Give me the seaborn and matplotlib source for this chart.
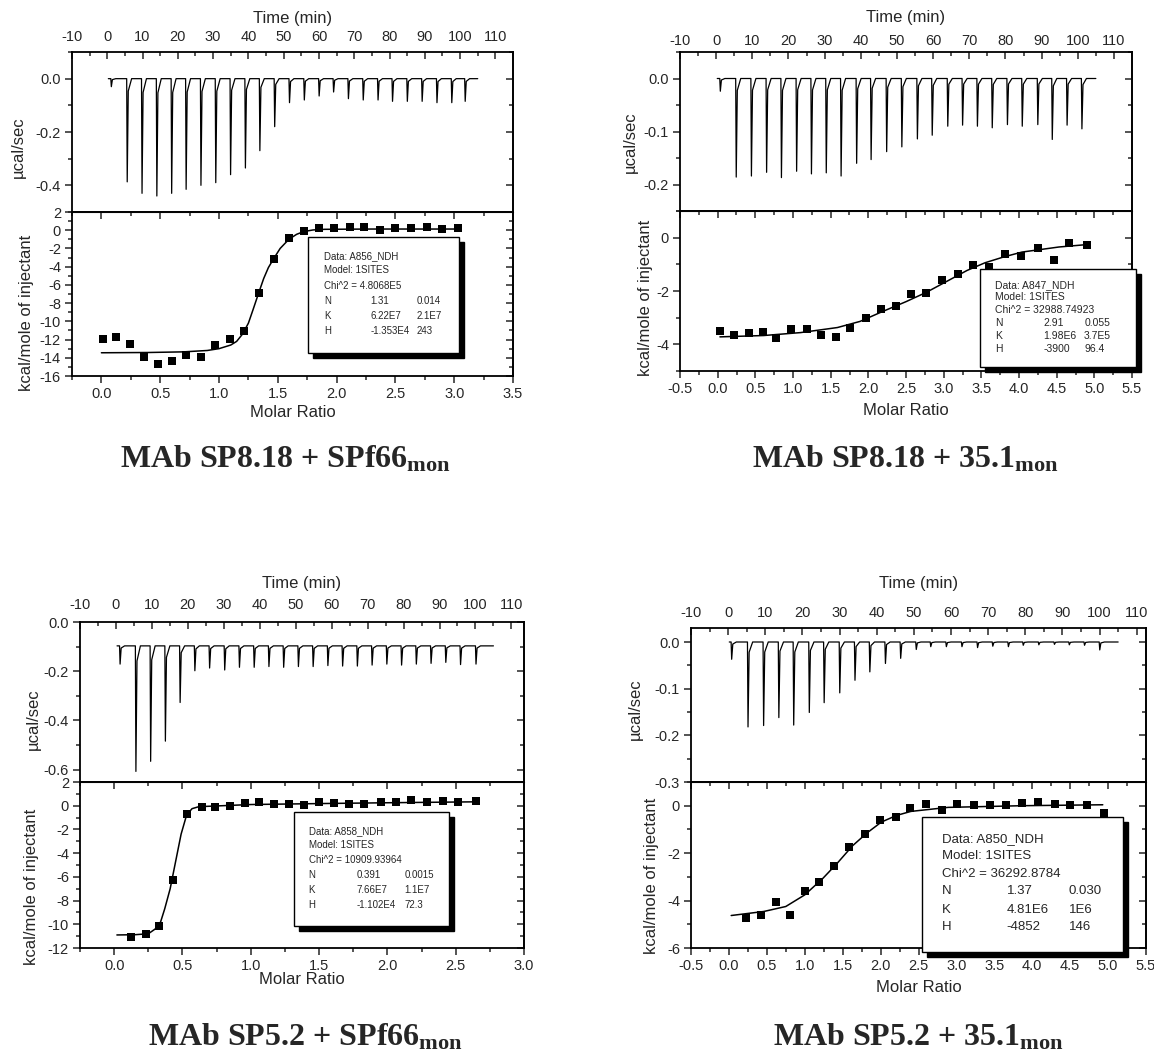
import numpy as np
import pandas as pd
import matplotlib
matplotlib.use("Agg")
import matplotlib.pyplot as plt
import matplotlib.ticker as mticker
from matplotlib.patches import Rectangle
from matplotlib.transforms import ScaledTranslation
import seaborn as sns

# ======================= DATA =======================
# ---- Panel 1: MAb SP8.18 + SPf66mon ----
p1_inj_time = [1.0, 5.5, 9.7, 13.9, 18.1, 22.2, 26.4, 30.6, 34.8, 39.0, 43.1, 47.3, 51.5,
               55.7, 59.9, 64.0, 68.2, 72.4, 76.6, 80.7, 84.9, 89.1, 93.3, 97.5, 101.3]
p1_inj_peak = [-0.03, -0.387, -0.43, -0.44, -0.43, -0.415, -0.40, -0.39, -0.36, -0.335, -0.27,
               -0.18, -0.09, -0.08, -0.065, -0.05, -0.075, -0.08, -0.08, -0.085, -0.085,
               -0.085, -0.09, -0.09, -0.085]
p1_base = 0.0
p1_ratio = [0.01, 0.125, 0.24, 0.363, 0.485, 0.601, 0.72, 0.845, 0.97, 1.093, 1.215, 1.337,
            1.466, 1.594, 1.72, 1.85, 1.979, 2.11, 2.235, 2.37, 2.5, 2.633, 2.765, 2.9, 3.034]
p1_heat = [-11.97, -11.75, -12.45, -13.9, -14.65, -14.4, -13.7, -13.95, -12.6, -11.9, -11.1,
           -6.9, -3.15, -0.87, -0.13, 0.24, 0.2, 0.35, 0.3, -0.02, 0.2, 0.2, 0.3, 0.12, 0.2]
p1_fit_x = [0.0, 0.4, 0.7, 0.9, 1.0, 1.1, 1.15, 1.2, 1.25, 1.29, 1.337, 1.38, 1.42, 1.466,
            1.52, 1.594, 1.66, 1.72, 1.8, 1.9, 2.3, 3.04]
p1_fit_y = [-13.45, -13.42, -13.35, -13.2, -13.0, -12.6, -12.2, -11.4, -10.2, -8.7, -6.9,
            -5.3, -4.1, -3.1, -2.0, -1.0, -0.45, -0.15, 0.03, 0.1, 0.13, 0.13]
p1_info = ["Data: A856_NDH", "Model: 1SITES", "Chi^2 = 4.8068E5"]
p1_params = [["N", "1.31", "0.014"], ["K", "6.22E7", "2.1E7"], ["H", "-1.353E4", "243"]]
p1_title = r"MAb SP8.18 + SPf66$_{\mathrm{mon}}$"

# ---- Panel 2: MAb SP8.18 + 35.1mon ----
p2_inj_time = [1.0, 5.4, 9.6, 13.8, 17.9, 22.1, 26.2, 30.3, 34.4, 38.7, 42.7, 47.0, 51.2,
               55.5, 59.6, 63.9, 68.0, 72.1, 76.2, 80.4, 84.5, 88.8, 92.8, 96.9, 101.0]
p2_inj_peak = [-0.024, -0.186, -0.184, -0.177, -0.187, -0.175, -0.18, -0.178, -0.184, -0.16,
               -0.153, -0.138, -0.129, -0.114, -0.107, -0.09, -0.088, -0.09, -0.093, -0.087,
               -0.09, -0.087, -0.115, -0.088, -0.095]
p2_base = 0.0
p2_ratio = [0.03, 0.22, 0.41, 0.6, 0.78, 0.98, 1.18, 1.37, 1.57, 1.76, 1.97, 2.17, 2.37, 2.57,
            2.77, 2.98, 3.19, 3.39, 3.6, 3.82, 4.03, 4.25, 4.46, 4.67, 4.9]
p2_heat = [-3.5, -3.66, -3.57, -3.52, -3.77, -3.43, -3.43, -3.64, -3.72, -3.4, -3.02, -2.68,
           -2.58, -2.11, -2.06, -1.57, -1.36, -1.01, -1.11, -0.6, -0.67, -0.39, -0.82, -0.19, -0.29]
p2_fit_x = [0.03, 0.61, 1.1, 1.59, 1.89, 2.18, 2.5, 2.77, 3.06, 3.31, 3.55, 3.8, 4.04, 4.53, 4.9]
p2_fit_y = [-3.72, -3.67, -3.56, -3.37, -3.14, -2.78, -2.4, -2.05, -1.61, -1.23, -0.94, -0.72,
            -0.54, -0.35, -0.26]
p2_info = ["Data: A847_NDH", "Model: 1SITES", "Chi^2 = 32988.74923"]
p2_params = [["N", "2.91", "0.055"], ["K", "1.98E6", "3.7E5"], ["H", "-3900", "96.4"]]
p2_title = r"MAb SP8.18 + 35.1$_{\mathrm{mon}}$"

# ---- Panel 3: MAb SP5.2 + SPf66mon ----
p3_inj_time = [1.0, 5.4, 9.5, 13.6, 17.7, 21.8, 25.9, 30.1, 34.2, 38.3, 42.4, 46.5, 50.6,
               54.7, 58.8, 62.9, 67.0, 71.1, 75.2, 79.3, 83.4, 87.5, 91.6, 95.7, 100.0]
p3_inj_peak = [-0.171, -0.607, -0.566, -0.484, -0.327, -0.198, -0.187, -0.195, -0.184, -0.184,
               -0.181, -0.184, -0.181, -0.181, -0.177, -0.179, -0.179, -0.175, -0.171, -0.175,
               -0.171, -0.168, -0.164, -0.173, -0.171]
p3_base = -0.097
p3_ratio = [0.12, 0.23, 0.33, 0.43, 0.53, 0.64, 0.74, 0.85, 0.96, 1.06, 1.17, 1.28, 1.39, 1.50,
            1.61, 1.72, 1.83, 1.95, 2.06, 2.17, 2.29, 2.41, 2.52, 2.65]
p3_heat = [-11.06, -10.8, -10.14, -6.29, -0.71, -0.09, -0.09, 0.0, 0.2, 0.29, 0.14, 0.14, 0.09,
           0.29, 0.2, 0.14, 0.14, 0.29, 0.29, 0.49, 0.29, 0.4, 0.34, 0.4]
p3_fit_x = [0.02, 0.15, 0.25, 0.3, 0.34, 0.37, 0.41, 0.45, 0.49, 0.53, 0.57, 0.62, 0.75, 1.0,
            1.5, 2.0, 2.66]
p3_fit_y = [-10.9, -10.88, -10.8, -10.4, -9.8, -8.7, -7.0, -4.7, -2.4, -0.8, -0.25, -0.08,
            -0.02, 0.1, 0.18, 0.25, 0.33]
p3_info = ["Data: A858_NDH", "Model: 1SITES", "Chi^2 = 10909.93964"]
p3_params = [["N", "0.391", "0.0015"], ["K", "7.66E7", "1.1E7"], ["H", "-1.102E4", "72.3"]]
p3_title = r"MAb SP5.2 + SPf66$_{\mathrm{mon}}$"

# ---- Panel 4: MAb SP5.2 + 35.1mon ----
p4_inj_time = [0.8, 5.2, 9.4, 13.5, 17.5, 21.7, 25.7, 29.9, 34.0, 38.0, 42.2, 46.3, 50.5,
               54.4, 58.6, 62.8, 67.0, 71.1, 75.3, 79.3, 83.5, 87.7, 91.7, 95.8, 99.9]
p4_inj_peak = [-0.037, -0.182, -0.179, -0.162, -0.178, -0.151, -0.13, -0.109, -0.082, -0.064,
               -0.046, -0.035, -0.016, -0.01, -0.01, -0.01, -0.012, -0.009, -0.01, -0.007,
               -0.006, -0.005, -0.006, -0.007, -0.017]
p4_base = 0.0
p4_ratio = [0.23, 0.42, 0.62, 0.8, 1.0, 1.19, 1.38, 1.58, 1.79, 1.99, 2.2, 2.39, 2.6, 2.81,
            3.01, 3.23, 3.44, 3.65, 3.86, 4.07, 4.3, 4.5, 4.72, 4.95]
p4_heat = [-4.75, -4.59, -4.04, -4.59, -3.58, -3.23, -2.56, -1.72, -1.2, -0.62, -0.48, -0.1,
           0.07, -0.2, 0.07, 0.03, 0.03, 0.04, 0.1, 0.14, 0.08, 0.03, 0.01, -0.32]
p4_fit_x = [0.03, 0.46, 0.75, 1.0, 1.24, 1.43, 1.63, 1.82, 2.01, 2.21, 2.4, 2.89, 3.86, 4.93]
p4_fit_y = [-4.63, -4.46, -4.25, -3.76, -3.06, -2.42, -1.69, -1.15, -0.69, -0.41, -0.24,
            -0.07, 0.0, 0.04]
p4_info = ["Data: A850_NDH", "Model: 1SITES", "Chi^2 = 36292.8784"]
p4_params = [["N", "1.37", "0.030"], ["K", "4.81E6", "1E6"], ["H", "-4852", "146"]]
p4_title = r"MAb SP5.2 + 35.1$_{\mathrm{mon}}$"

time_label = "Time (min)"
power_label = "µcal/sec"
heat_label = "kcal/mole of injectant"
ratio_label = "Molar Ratio"

# ======================= STYLE =======================
sns.set_style("ticks")
plt.rcParams["font.family"] = ["Liberation Sans", "DejaVu Sans"]
plt.rcParams["axes.unicode_minus"] = False
plt.rcParams["mathtext.fontset"] = "custom"
plt.rcParams["mathtext.rm"] = "Liberation Serif:bold"
plt.rcParams["mathtext.bf"] = "Liberation Serif:bold"
plt.rcParams["mathtext.it"] = "Liberation Serif:bold:italic"

W, H = 1154, 1052
fig = plt.figure(figsize=(W / 100, H / 100), dpi=100)
fig.patch.set_facecolor("white")

SPINE_LW = 1.3
TICK_FS = 10.5
LABEL_FS = 12


def px_axes(left, right, top, bottom):
    return fig.add_axes([left / W, 1 - bottom / H, (right - left) / W, (bottom - top) / H])


def fmt1(v, p):
    return "0.0" if abs(v) < 1e-9 else f"{v:.1f}"


def fmt0(v, p):
    return "0" if abs(v) < 1e-9 else f"{v:.0f}"


def spines(ax):
    for s in ax.spines.values():
        s.set_visible(True)
        s.set_linewidth(SPINE_LW)
        s.set_color("black")


def right_ticks(ax, ymaj, ymin):
    sec = ax.secondary_yaxis("right")
    sec.yaxis.set_major_locator(mticker.MultipleLocator(ymaj))
    sec.yaxis.set_minor_locator(mticker.MultipleLocator(ymin))
    sec.tick_params(which="both", direction="in", labelright=False, width=1.1)
    sec.tick_params(which="major", length=5)
    sec.tick_params(which="minor", length=3)
    sec.spines["right"].set_linewidth(SPINE_LW)


def style_left(ax, ylim, ymaj, ymin, fmt, label, lab_xy):
    ax.set_ylim(*ylim)
    ax.yaxis.set_major_locator(mticker.MultipleLocator(ymaj))
    ax.yaxis.set_minor_locator(mticker.MultipleLocator(ymin))
    ax.yaxis.set_major_formatter(mticker.FuncFormatter(fmt))
    ax.tick_params(axis="y", which="both", direction="out", left=True, right=False,
                   labelsize=TICK_FS, width=1.1, pad=3)
    ax.tick_params(axis="y", which="major", length=5)
    ax.tick_params(axis="y", which="minor", length=3)
    ax.set_ylabel(label, fontsize=LABEL_FS)
    ax.yaxis.label.set_va("center")
    ax.yaxis.set_label_coords(*lab_xy)
    right_ticks(ax, ymaj, ymin)


def thermo_df(times, peaks, base, t_start, t_end):
    xs, ys = [t_start], [base]
    for t, p in zip(times, peaks):
        d = p - base
        xs += [t, t + 0.15, t + 0.45, t + 1.4]
        ys += [base, p, base + 0.12 * d, base]
    xs.append(t_end)
    ys.append(base)
    return pd.DataFrame({"time": xs, "power": ys})


def top_panel(box, xlim, ylim, ymaj, ymin, times, peaks, base, tpad, tlab_y, ylab_xy):
    ax = px_axes(*box)
    spines(ax)
    df = thermo_df(times, peaks, base, 0.3, 105.0)
    sns.lineplot(data=df, x="time", y="power", sort=False, estimator=None, ax=ax,
                 color="black", linewidth=0.9)
    ax.set_xlim(*xlim)
    ax.xaxis.set_major_locator(mticker.MultipleLocator(10))
    ax.xaxis.set_minor_locator(mticker.MultipleLocator(5))
    ax.xaxis.set_major_formatter(mticker.FuncFormatter(fmt0))
    ax.xaxis.tick_top()
    ax.tick_params(axis="x", which="both", direction="in", top=True, bottom=False,
                   labeltop=True, labelbottom=False, labelsize=TICK_FS, pad=tpad, width=1.1)
    ax.tick_params(axis="x", which="major", length=5)
    ax.tick_params(axis="x", which="minor", length=3)
    ax.xaxis.set_label_position("top")
    ax.set_xlabel(time_label, fontsize=LABEL_FS)
    ax.xaxis.label.set_va("center")
    ax.xaxis.set_label_coords(0.5, tlab_y)
    style_left(ax, ylim, ymaj, ymin, fmt1, power_label, ylab_xy)
    return ax


def bottom_panel(box, xlim, ylim, ymaj, ymin, rx, ry, fx, fy, rlab_y, ylab_xy):
    ax = px_axes(*box)
    spines(ax)
    sns.lineplot(x=fx, y=fy, sort=False, estimator=None, ax=ax, color="black", linewidth=1.1)
    sns.scatterplot(x=rx, y=ry, marker="s", s=30, color="black", edgecolor="black",
                    linewidth=0, ax=ax, zorder=4)
    ax.set_xlim(*xlim)
    ax.xaxis.set_major_locator(mticker.MultipleLocator(0.5))
    ax.xaxis.set_minor_locator(mticker.MultipleLocator(0.25))
    ax.xaxis.set_major_formatter(mticker.FuncFormatter(fmt1))
    ax.tick_params(axis="x", which="both", direction="out", bottom=True, top=False,
                   labelsize=TICK_FS, width=1.1, pad=3)
    ax.tick_params(axis="x", which="major", length=5)
    ax.tick_params(axis="x", which="minor", length=3)
    sec = ax.secondary_xaxis("top")
    sec.xaxis.set_major_locator(mticker.MultipleLocator(0.5))
    sec.xaxis.set_minor_locator(mticker.MultipleLocator(0.25))
    sec.tick_params(which="both", direction="in", labeltop=False, width=1.1)
    sec.tick_params(which="major", length=5)
    sec.tick_params(which="minor", length=3)
    ax.set_xlabel(ratio_label, fontsize=LABEL_FS)
    ax.xaxis.label.set_va("center")
    ax.xaxis.set_label_coords(0.5, rlab_y)
    style_left(ax, ylim, ymaj, ymin, fmt0, heat_label, ylab_xy)
    return ax


def info_box(ax, x0, y0, x1, y1, header, params, fs, cols):
    w, h = x1 - x0, y1 - y0
    off = ScaledTranslation(5 / 100, -5 / 100, fig.dpi_scale_trans)
    ax.add_patch(Rectangle((x0, y0), w, h, transform=ax.transAxes + off, facecolor="black",
                           edgecolor="black", zorder=8, clip_on=False))
    ax.add_patch(Rectangle((x0, y0), w, h, transform=ax.transAxes, facecolor="white",
                           edgecolor="black", linewidth=1.0, zorder=9, clip_on=False))
    rows = [0.165, 0.29, 0.42, 0.55, 0.685, 0.815]
    for i, line in enumerate(header):
        ax.text(x0 + cols[0] * w, y1 - rows[i] * h, line, transform=ax.transAxes,
                fontsize=fs, ha="left", va="center", zorder=10)
    for j, (a, b, c) in enumerate(params):
        yy = y1 - rows[3 + j] * h
        for cx, s in zip(cols, (a, b, c)):
            ax.text(x0 + cx * w, yy, s, transform=ax.transAxes, fontsize=fs,
                    ha="left", va="center", zorder=10)


# ======================= PANEL 1 =======================
top_panel((72, 513, 52, 212), (-10, 115), (-0.5, 0.1), 0.2, 0.1,
          p1_inj_time, p1_inj_peak, p1_base, 6.0, 1.21, (-0.121, 0.406))
b1 = bottom_panel((72, 513, 212, 376), (-0.25, 3.5), (-16, 2), 2, 1,
                  p1_ratio, p1_heat, p1_fit_x, p1_fit_y, -0.22, (-0.104, 0.384))
info_box(b1, 0.535, 0.14, 0.878, 0.85, p1_info, p1_params, 7, (0.105, 0.415, 0.72))

# ======================= PANEL 2 =======================
top_panel((680, 1132, 52, 211), (-10, 115), (-0.25, 0.05), 0.1, 0.05,
          p2_inj_time, p2_inj_peak, p2_base, 3.0, 1.22, (-0.11, 0.43))
b2 = bottom_panel((680, 1132, 211, 371), (-0.5, 5.5), (-5, 1), 2, 1,
                  p2_ratio, p2_heat, p2_fit_x, p2_fit_y, -0.244, (-0.077, 0.456))
info_box(b2, 0.663, 0.027, 1.008, 0.636, p2_info, p2_params, 7.5, (0.1, 0.41, 0.67))

# ======================= PANEL 3 =======================
top_panel((80, 524, 622, 782), (-10, 113.5), (-0.65, 0.0), 0.2, 0.1,
          p3_inj_time, p3_inj_peak, p3_base, 7.5, 1.24, (-0.106, 0.39))
b3 = bottom_panel((80, 524, 782, 948), (-0.25, 3.0), (-12, 2), 2, 1,
                  p3_ratio, p3_heat, p3_fit_x, p3_fit_y, -0.19, (-0.11, 0.367))
info_box(b3, 0.481, 0.13, 0.83, 0.82, p3_info, p3_params, 7, (0.097, 0.406, 0.715))

# ======================= PANEL 4 =======================
top_panel((691, 1146, 628, 782), (-10, 112.5), (-0.3, 0.03), 0.1, 0.05,
          p4_inj_time, p4_inj_peak, p4_base, 5.5, 1.29, (-0.123, 0.47))
b4 = bottom_panel((691, 1146, 782, 948), (-0.5, 5.5), (-6, 1), 2, 1,
                  p4_ratio, p4_heat, p4_fit_x, p4_fit_y, -0.24, (-0.086, 0.434))
info_box(b4, 0.508, -0.024, 0.95, 0.788, p4_info, p4_params, 9.5, (0.1, 0.42, 0.73))

# ======================= TITLES =======================
for (cx, by), t in zip([(285, 468), (905, 468), (305, 1046), (918, 1046)],
                       [p1_title, p2_title, p3_title, p4_title]):
    fig.text(cx / W, 1 - by / H, t, family="Liberation Serif", weight="bold", fontsize=23,
             ha="center", va="baseline")

fig.savefig("out.png", dpi=100, facecolor="white")
